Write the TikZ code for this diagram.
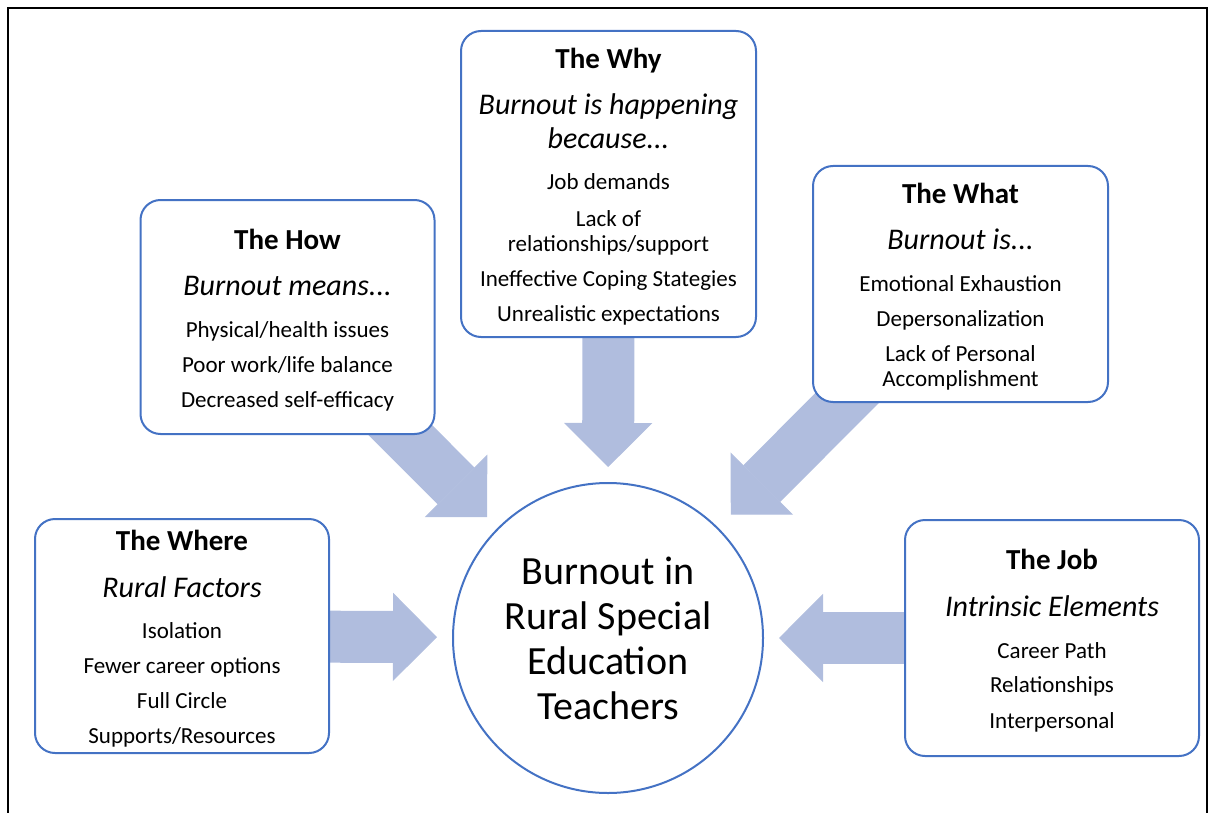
\documentclass[tikz,border=0pt]{standalone}
\usepackage{fontspec}
\setmainfont{Carlito}
\usepackage{tikz}
\usetikzlibrary{arrows.meta,backgrounds}

\definecolor{panelblue}{HTML}{4472C4}
\definecolor{arrowblue}{RGB}{176,189,222}

\newcommand{\boxtitle}[1]{{\fontsize{29}{25}\selectfont\bfseries\rule{0pt}{26pt}#1}}
\newcommand{\boxsub}[1]{{\fontsize{30}{25}\selectfont\itshape #1}}
\newcommand{\fixedlines}{\lineskiplimit=-100pt\relax}

\tikzset{
  panel/.style={draw=panelblue, line width=2pt, fill=white, rounded corners=20pt,
    minimum width=294pt, align=center,
    font={\fontsize{23}{25}\selectfont\fixedlines}},
  hub/.style={circle, draw=panelblue, line width=2pt, fill=white, minimum size=310pt,
    align=center, font={\fontsize{40}{45}\selectfont\fixedlines}},
  bigarrow/.style={draw=arrowblue, line width=52pt,
    -{Triangle[width=88pt,length=44pt,line width'=1pt]}, shorten >=15pt}
}

\begin{document}
\begin{tikzpicture}[x=1pt,y=-1pt]
\useasboundingbox (0,0) rectangle (1209,813);

% frame
\draw[line width=2.5pt] (8,813) -- (8,8) -- (1207,8) -- (1207,813);

% centre
\node[hub] (hub) at (608,638) {Burnout in\\Rural Special\\Education\\Teachers};

% the five boxes
\node[panel, minimum height=234pt] (how) at (287.5,317)
  {\boxtitle{The How}\\[21pt] \boxsub{Burnout means...}\\[17pt]
   Physical/health issues\\[10pt] Poor work/life balance\\[10pt] Decreased self-efficacy};
\node[panel, minimum width=295pt, minimum height=306pt] (why) at (608.5,184)
  {\boxtitle{The Why}\\[21pt] \boxsub{Burnout is happening}\\[9pt] \boxsub{because...}\\[16pt]
   Job demands\\[12pt] Lack of\\ relationships/support\\[10pt]
   Ineffective Coping Stategies\\[10pt] Unrealistic expectations};
\node[panel, minimum width=295pt, minimum height=236pt] (what) at (960.5,284)
  {\boxtitle{The What}\\[21pt] \boxsub{Burnout is...}\\[17pt]
   Emotional Exhaustion\\[10pt] Depersonalization\\[10pt] Lack of Personal\\ Accomplishment};
\node[panel, minimum height=234pt] (where) at (182,636)
  {\boxtitle{The Where}\\[22pt] \boxsub{Rural Factors}\\[16pt]
   Isolation\\[10pt] Fewer career options\\[10pt] Full Circle\\[10pt] Supports/Resources};
\node[panel, minimum height=236pt] (job) at (1052,638)
  {\boxtitle{The Job}\\[22pt] \boxsub{Intrinsic Elements}\\[17pt]
   Career Path\\[9pt] Relationships\\[11pt] Interpersonal};

% block arrows, behind the boxes
\begin{scope}[on background layer]
\draw[bigarrow, shorten <=-30pt] (how) -- (hub);
\draw[bigarrow] (why) -- (hub);
\draw[bigarrow, shorten <=-30pt, shorten >=18pt] (what) -- (hub);
\draw[bigarrow] (where) -- (hub);
\draw[bigarrow] (job) -- (hub);
\end{scope}

\end{tikzpicture}
\end{document}
